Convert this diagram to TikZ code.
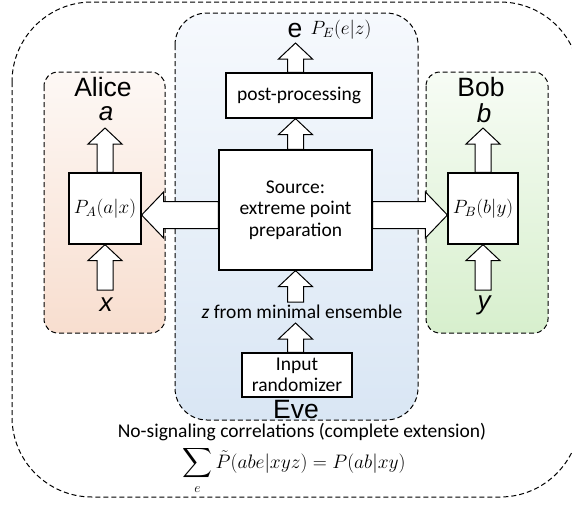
\RequirePackage{fix-cm}
\documentclass[tikz,border=0pt]{standalone}
\usepackage{amsmath}
\usepackage{fontspec}
\setmainfont{Carlito}
\newfontfamily\arialfont{Liberation Sans}
\usetikzlibrary{positioning,calc}

\definecolor{alicetop}{HTML}{FDF8F5}
\definecolor{alicebot}{HTML}{F8DECF}
\definecolor{evetop}{HTML}{F6F9FD}
\definecolor{evebot}{HTML}{D9E6F4}
\definecolor{bobtop}{HTML}{F7FCF5}
\definecolor{bobbot}{HTML}{D7EFCD}

% math in the small boxes is a bit larger than cm allows
\newcommand{\probtext}[1]{\scalebox{1.13}{$#1$}}

\tikzset{
  fat/.style args={#1/#2/#3}{to path={let \p1=(\tikztostart), \p2=(\tikztotarget),
      \n1={veclen(\x2-\x1,\y2-\y1)}, \n2={(\x2-\x1)/\n1}, \n3={(\y2-\y1)/\n1} in
      ({\x1-#1*\n3},{\y1+#1*\n2}) -- ({\x2-#3*\n2-#1*\n3},{\y2-#3*\n3+#1*\n2})
      -- ({\x2-#3*\n2-#2*\n3},{\y2-#3*\n3+#2*\n2}) -- (\p2)
      -- ({\x2-#3*\n2+#2*\n3},{\y2-#3*\n3-#2*\n2}) -- ({\x2-#3*\n2+#1*\n3},{\y2-#3*\n3-#1*\n2})
      -- ({\x1+#1*\n3},{\y1-#1*\n2}) -- cycle}},
  region/.style={dash pattern=on 5pt off 3pt, line width=1pt, rounded corners=#1},
  box/.style={draw, line width=1.2pt, fill=white, align=center, inner sep=0pt,
      font=\fontsize{19.5}{21.5}\selectfont},
  lbl/.style={font=\fontsize{19.5}{21.5}\selectfont, align=center, inner sep=0pt},
  prob/.style={font=\fontsize{17}{20}\selectfont},
  party/.style={font=\arialfont\fontsize{26.5}{30}\selectfont, inner sep=0pt},
  var/.style={font=\arialfont\itshape\fontsize{26}{30}\selectfont, inner sep=0pt},
  vfat/.style={draw, fill=white, line width=1pt, fat=8pt/17pt/16pt},
  hfat/.style={draw, fill=white, line width=1pt, fat=13.5pt/23pt/22pt},
}

\begin{document}
\begin{tikzpicture}[x=1pt,y=-1pt]
  \useasboundingbox (0,0) rectangle (572,504);
  % no-signaling set and the three parties
  \draw[region=80] (12,2) rectangle (580,497);
  \draw[region=32, top color=evetop, bottom color=evebot] (175,13) rectangle (418,420);
  \draw[region=14, top color=alicetop, bottom color=alicebot] (44,72) rectangle (165,333);
  \draw[region=14, top color=bobtop, bottom color=bobbot] (426,72) rectangle (548,333);

  \node[box, minimum width=153pt, minimum height=120pt] (source) at (295.5,210) {Source:\\extreme point\\preparation};
  \node[box, minimum width=146pt, minimum height=45pt] (post) at (299,95.5) {post-processing};
  \node[box, minimum width=110pt, minimum height=44pt] (rand) at (297,375) {Input\\randomizer};
  \node[box, prob, minimum width=72pt, minimum height=71pt] (p_a) at (105,208.5) {\probtext{P_A(a|x)}};
  \node[box, prob, minimum width=70pt, minimum height=71pt] (p_b) at (483,208.5) {\probtext{P_B(b|y)}};

  \node[party] (alice) at (103,87) {Alice};
  \node[var] (lab_a) at (106,114) {a};
  \node[var] (lab_x) at (106,305) {x};
  \node[party] (bob) at (481,87) {Bob};
  \node[var] (lab_b) at (484,113) {b};
  \node[var] (lab_y) at (484,305) {y};
  \node[party] (lab_e) at (295,30) {e};
  \node[prob, inner sep=0pt] (p_e) at (341,30) {\probtext{P_E(e|z)}};
  \node[party] (eve) at (296,410) {Eve};
  \node[lbl] (lab_z) at (302,312) {\textit{z} from minimal ensemble};
  \node[lbl] (nosig) at (302,432) {No-signaling correlations (complete extension)};
  \node[lbl, anchor=base] (marg) at (294,468) {$\displaystyle\sum_e \tilde{P}(abe|xyz) = P(ab|xy)$};

  \coordinate (tip_a) at (105,128);
  \coordinate (foot_x) at (105,290);
  \coordinate (tip_b) at (483,128);
  \coordinate (foot_y) at (483,290);
  \coordinate (tip_e) at (295.5,43);
  \coordinate (foot_z) at (295.5,302);
  \coordinate (tip_z) at (295.5,323);
  \coordinate (src_l) at ([yshift=-5pt]source.west);
  \coordinate (src_r) at ([yshift=-5pt]source.east);

  \path[vfat]
      (p_a.north) to (tip_a)
      (foot_x) to (p_a.south)
      (p_b.north) to (tip_b)
      (foot_y) to (p_b.south)
      (source.north) to (source.north |- post.south)
      (tip_e |- post.north) to (tip_e)
      (foot_z) to (source.south)
      (tip_z |- rand.north) to (tip_z);
  \path[hfat]
      (src_l) to (src_l -| p_a.east)
      (src_r) to (src_r -| p_b.west);
\end{tikzpicture}
\end{document}
